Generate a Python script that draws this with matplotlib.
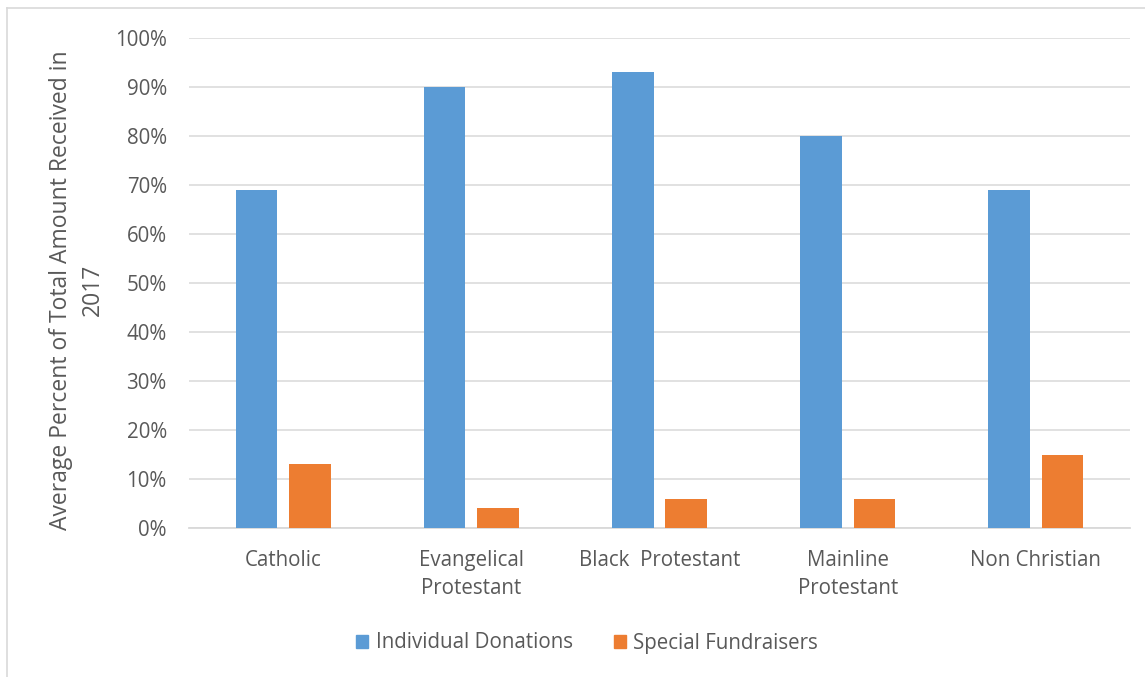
import matplotlib
matplotlib.use("Agg")
import matplotlib.pyplot as plt
import numpy as np
from matplotlib.lines import Line2D

categories = ["Catholic", "Evangelical\nProtestant", "Black  Protestant", "Mainline\nProtestant", "Non Christian"]
individual = [69, 90, 93, 80, 69]
special = [13, 4, 6, 6, 15]
series_names = ["Individual Donations", "Special Fundraisers"]
yticks = [0, 10, 20, 30, 40, 50, 60, 70, 80, 90, 100]

plt.rcParams['font.family'] = ['Open Sans', 'DejaVu Sans']
txt = '#595959'
fs = 14.8

fig = plt.figure(figsize=(11.45, 6.77), dpi=100)
ax = fig.add_axes([189/1145, 1-528/677, (1130-189)/1145, (528-38)/677])

x = np.arange(len(categories))
w = 0.221
off = 0.142
ax.bar(x - off, individual, w, color='#5B9BD5', label=series_names[0], zorder=3)
ax.bar(x + off, special, w, color='#ED7D31', label=series_names[1], zorder=3)

ax.set_xlim(-0.5, len(categories) - 0.5)
ax.set_ylim(0, 100)
ax.set_yticks(yticks)
ax.set_yticklabels([f"{v}%" for v in yticks], color=txt, fontsize=fs)
ax.set_xticks(x)
ax.set_xticklabels(categories, color=txt, fontsize=fs, linespacing=1.45, va='top')
ax.tick_params(axis='both', length=0)
ax.tick_params(axis='y', pad=16)
ax.tick_params(axis='x', pad=16)
ax.grid(axis='y', color='#d9d9d9', lw=1.1, zorder=0)
for s in ['top', 'right', 'left']:
    ax.spines[s].set_visible(False)
ax.spines['bottom'].set_color('#d9d9d9')
ax.spines['bottom'].set_linewidth(1.3)

fig.text(77/1145, 1-290/677, "Average Percent of Total Amount Received in\n2017",
         rotation=90, ha='center', va='center', color=txt, fontsize=16.5, linespacing=1.45)

leg = fig.legend(handles=[plt.Rectangle((0, 0), 1, 1, color='#5B9BD5'),
                          plt.Rectangle((0, 0), 1, 1, color='#ED7D31')],
                 labels=series_names, loc='center', bbox_to_anchor=(587/1145, 1-643/677),
                 ncol=2, frameon=False, fontsize=fs, handlelength=0.6, handleheight=0.6,
                 handletextpad=0.35, columnspacing=2.0)
for t in leg.get_texts():
    t.set_color(txt)

# outer frame (partly cropped)
fig.add_artist(Line2D([7/1145, 7/1145], [0, 1-8/677], color='#d9d9d9', lw=1.2, transform=fig.transFigure))
fig.add_artist(Line2D([7/1145, 1], [1-8/677, 1-8/677], color='#d9d9d9', lw=1.2, transform=fig.transFigure))

fig.savefig("out.png", dpi=100, facecolor='white')
